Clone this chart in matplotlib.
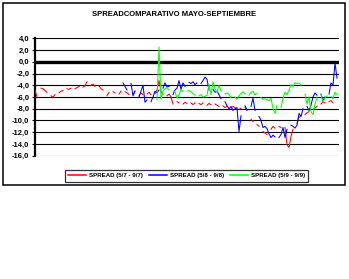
import numpy as np
import matplotlib
matplotlib.use("Agg")
import matplotlib.pyplot as plt
from matplotlib.patches import Rectangle

nan = np.nan

titulo = "SPREADCOMPARATIVO MAYO-SEPTIEMBRE"
etiquetas = ["SPREAD (5/7 - 9/7)", "SPREAD (5/8 - 9/8)", "SPREAD (5/9 - 9/9)"]
colores = ["#ff0000", "#0000ff", "#00ff00"]
yticks = [4, 2, 0, -2, -4, -6, -8, -10, -12, -14, -16]

# dia de inicio de cada serie (indice sobre el eje de categorias)
inicio_07 = 0
inicio_08 = 44
inicio_09 = 61
n_dias = 152

spread_07 = [
    -4.8, -6.0, nan, -4.5, -4.6, -4.9, -5.2, nan, -5.8, -6.0,
    -5.6, nan, -5.3, -5.0, -4.9, nan, -4.6, -4.7, -4.5, nan,
    -4.6, -4.4, -4.2, nan, -4.3, -4.1, -3.4, nan, -4.0, -3.8,
    -4.2, nan, -4.1, -4.6, -4.8, nan, -5.8, -5.2, nan, -5.1,
    -5.3, nan, -5.5, -5.0, nan, -5.1, -5.3, -5.6, nan, -5.6,
    -5.0, nan, -5.8, -5.3, -5.6, nan, -5.5, -5.2, -5.6, nan,
    -5.4, -4.8, -3.2, -5.0, -5.6, nan, -5.8, -5.5, -6.0, -7.2,
    nan, -6.8, -7.0, nan, -7.2, -6.9, -7.1, nan, -7.0, -7.3,
    -7.0, nan, -7.1, -7.3, -7.0, nan, -7.4, -7.1, -7.3, nan,
    -7.2, -7.4, -7.6, nan, -7.5, -7.8, -7.6, nan, -7.9, -7.6,
    -7.8, nan, -8.1, -7.9, nan, -7.8, -8.3, nan, -9.8, -10.2,
    nan, -10.7, -11.0, nan, -11.9, -12.1, -12.4, nan, -11.5, -11.0,
    -11.3, nan, -11.0, -11.2, nan, -11.2, -14.1, -14.6, -12.7, -11.5,
    nan, -10.5, -9.5, -9.2, nan, -9.0, -8.7, -8.5, nan, -8.1,
    -7.9, -7.6, nan, -7.2, -6.8, -7.0, nan, -6.8, -6.6, -7.0,
    nan, -8.1,
]

spread_08 = [
    -3.6, -4.2, -4.8, nan, -3.7, -5.8, -5.0, nan, -6.0, -5.0,
    -4.0, -6.9, -6.5, nan, -6.8, -6.0, -5.0, -5.3, -4.8, nan,
    -4.5, -3.6, -4.3, -4.2, nan, -5.6, -4.8, -4.5, -3.2, -4.7,
    -3.6, -4.2, nan, -3.5, -3.7, -3.4, -3.9, -3.6, nan, -3.7,
    -3.2, -2.6, -3.0, -4.8, nan, -4.7, -5.2, -5.0, -5.6, -6.3,
    nan, -6.8, -7.5, -8.0, -7.6, -8.3, -8.0, -7.8, -11.9, -9.2,
    nan, -7.5, -8.2, nan, -7.6, -6.2, -8.3, nan, -9.3, -10.0,
    -11.2, -11.0, -11.4, -12.3, -12.9, -12.5, -12.8, nan, -12.9, -12.4,
    -11.2, -12.9, -11.5, nan, -10.8, -11.0, -11.3, -10.8, -8.8, -9.3,
    -8.0, nan, -7.6, -8.3, -7.4, -6.0, -5.3, -5.7, nan, -5.5,
    -6.6, -6.0, nan, -5.5, -3.6, -4.0, -0.2, -2.8,
]

spread_09 = [
    -6.5, 2.5, -6.4, -5.0, -4.6, -4.4, -4.8, nan, -5.0, -5.1,
    -6.2, -5.6, -4.8, -5.0, nan, -5.0, -4.9, -5.1, -5.4, -5.7,
    nan, -5.8, -5.6, -6.0, -5.9, -5.7, -3.8, -5.6, -3.4, -4.6,
    -5.2, -4.0, -5.0, nan, -5.5, -5.3, -5.6, -6.1, nan, -6.0,
    -6.4, -5.8, -5.4, -5.1, -5.5, nan, -5.7, -5.2, -5.0, -5.6,
    -5.4, nan, -6.1, -6.4, -6.3, -6.5, -6.6, -6.2, -8.0, -8.8,
    -7.4, nan, -7.8, -6.2, -5.2, -5.6, -4.8, -3.9, -4.2, -3.6,
    -3.7, -3.6, -4.0, nan, -5.5, -7.2, -6.0, -8.5, -9.0, -7.2,
    -6.0, nan, -5.6, -6.8, -6.2, -5.8, nan, -5.9, -6.3, -5.2,
    -5.6,
]

series = [(inicio_07, spread_07), (inicio_08, spread_08), (inicio_09, spread_09)]

plt.rcParams["font.family"] = ["Liberation Sans", "DejaVu Sans"]

fig = plt.figure(figsize=(3.49, 2.79), dpi=100)

# marco exterior del grafico
fig.patches.append(Rectangle((3 / 349, 1 - 185 / 279), 342 / 349, 182 / 279,
                             transform=fig.transFigure, fill=False,
                             edgecolor="black", linewidth=1.1))

fig.text(0.50, 1 - 15 / 279, titulo, ha="center", va="center",
         fontsize=5.5, fontweight="bold")

ax = fig.add_axes([35 / 349, 1 - 155.7 / 279, 304 / 349, 117.4 / 279])

for y in yticks:
    ax.axhline(y, color="black", lw=0.8, zorder=1)
ax.axhline(0, color="black", lw=2.4, zorder=1)

lineas = []
for (inicio, vals), col, lab in zip(series, colores, etiquetas):
    x = inicio + np.arange(len(vals))
    ln, = ax.plot(x, vals, color=col, lw=0.75, label=lab, zorder=3)
    lineas.append(ln)

ax.set_xlim(0, n_dias)
ax.set_ylim(-16, 4)
ax.set_yticks(yticks)
ax.set_yticklabels([f"{v:.1f}".replace(".", ",") for v in yticks],
                   fontsize=5.5, fontweight="bold")
ax.set_xticks([])
for s in ["top", "right", "bottom"]:
    ax.spines[s].set_visible(False)
ax.spines["left"].set_linewidth(1.6)
ax.tick_params(axis="y", length=2, width=0.8, pad=2)

leg = fig.legend(lineas, etiquetas, loc="center",
                 bbox_to_anchor=(186.5 / 349, 1 - 175.7 / 279),
                 ncol=3, fontsize=4.4, frameon=True, fancybox=False,
                 edgecolor="black", handlelength=2.9, handletextpad=0.5,
                 columnspacing=1.0, borderpad=0.55)
leg.get_frame().set_linewidth(0.9)
for t in leg.get_texts():
    t.set_fontweight("bold")
for h in leg.legend_handles:
    h.set_linewidth(1.1)

fig.savefig("out.png", dpi=100)
